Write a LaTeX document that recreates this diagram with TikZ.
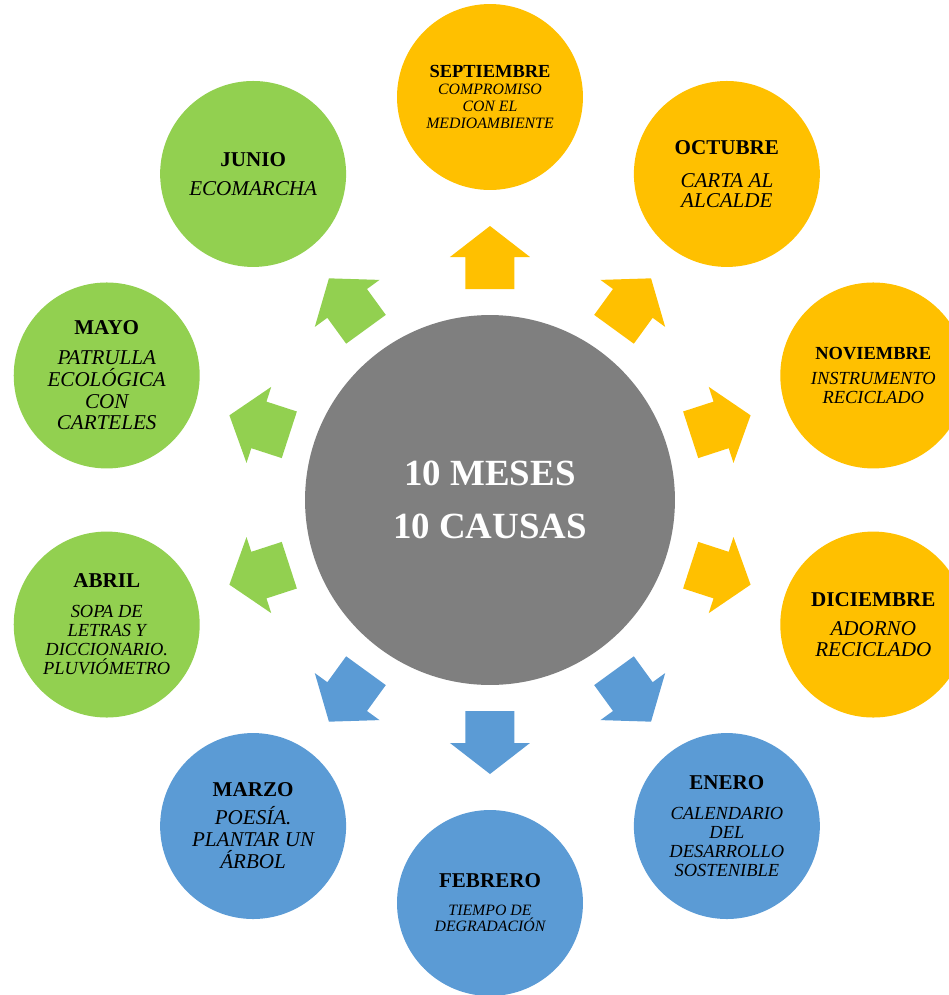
\documentclass[tikz,border=0pt]{standalone}
\usepackage{fontspec}
\setmainfont{Liberation Serif}
\usepackage{tikz}
\usetikzlibrary{shapes}
\definecolor{naranja}{HTML}{FFC000}
\definecolor{azul}{HTML}{5B9BD5}
\definecolor{verde}{HTML}{92D050}
\definecolor{gris}{HTML}{7F7F7F}
\tikzstyle{mes} = [circle,inner sep=0pt,minimum size=3.72cm,align=center]
\tikzstyle{doce} = [font=\itshape\fontsize{12}{11.8}\selectfont]
\tikzstyle{diez} = [font=\itshape\fontsize{10.5}{10.8}\selectfont]
\tikzstyle{nueve} = [font=\itshape\fontsize{9}{9.4}\selectfont]
\newcommand{\nombre}[1]{\textup{\bfseries\fontsize{12}{12}\selectfont #1}}
\newcommand{\nombrechico}[1]{\textup{\bfseries\fontsize{10.5}{10.5}\selectfont #1}}

\begin{document}
\begin{tikzpicture}[x=0.02cm,y=0.02cm]
  \useasboundingbox (-490,-495) rectangle (459,500);
  % centro
  \node[circle,fill=gris,minimum size=7.4cm,inner sep=0pt,align=center,
        text=white,font=\bfseries\fontsize{21}{30}\selectfont] (centro) at (0,0)
        {10 MESES\\10 CAUSAS};
  % flechas
  \foreach \ang/\col in {90/naranja,54/naranja,18/naranja,-18/naranja,
                         -54/azul,-90/azul,-126/azul,
                         -162/verde,162/verde,126/verde}
    \fill[\col,rotate=\ang] (211,-24.5) -- (243,-24.5) -- (243,-40) -- (274,0)
      -- (243,40) -- (243,24.5) -- (211,24.5) -- cycle;
  % meses
  \node[mes,fill=naranja,font=\itshape\fontsize{9}{9.8}\selectfont] (sep) at (90:403)
    {\nombrechico{SEPTIEMBRE}\\COMPROMISO\\CON EL\\MEDIOAMBIENTE};
  \node[mes,fill=naranja,font=\itshape\fontsize{12}{11.3}\selectfont] (oct) at (54:403)
    {\nombre{OCTUBRE}\\[7.4pt]CARTA AL\\ALCALDE};
  \node[mes,fill=naranja,diez] (nov) at (18:403)
    {\nombrechico{NOVIEMBRE}\\[3.9pt]INSTRUMENTO\\RECICLADO};
  \node[mes,fill=naranja,doce] (dic) at (-18:403)
    {\nombre{DICIEMBRE}\\[4.5pt]ADORNO\\RECICLADO};
  \node[mes,fill=azul,diez] (ene) at (-54:403)
    {\nombre{ENERO}\\[6.2pt]CALENDARIO\\DEL\\DESARROLLO\\SOSTENIBLE};
  \node[mes,fill=azul,nueve] (feb) at (-90:403)
    {\nombre{FEBRERO}\\[6.2pt]TIEMPO DE\\DEGRADACIÓN};
  \node[mes,fill=azul,font=\itshape\fontsize{12}{12.5}\selectfont] (mar) at (-126:403)
    {\nombre{MARZO}\\[3.4pt]POESÍA.\\PLANTAR UN\\ÁRBOL};
  \node[mes,fill=verde,diez] (abr) at (-162:403)
    {\nombre{ABRIL}\\[6.2pt]SOPA DE\\LETRAS Y\\DICCIONARIO.\\PLUVIÓMETRO};
  \node[mes,fill=verde,font=\itshape\fontsize{12}{12.3}\selectfont] (may) at (162:403)
    {\nombre{MAYO}\\[4.7pt]PATRULLA\\ECOLÓGICA\\CON\\CARTELES};
  \node[mes,fill=verde,doce] (jun) at (126:403)
    {\nombre{JUNIO}\\[5pt]ECOMARCHA};
\end{tikzpicture}
\end{document}
